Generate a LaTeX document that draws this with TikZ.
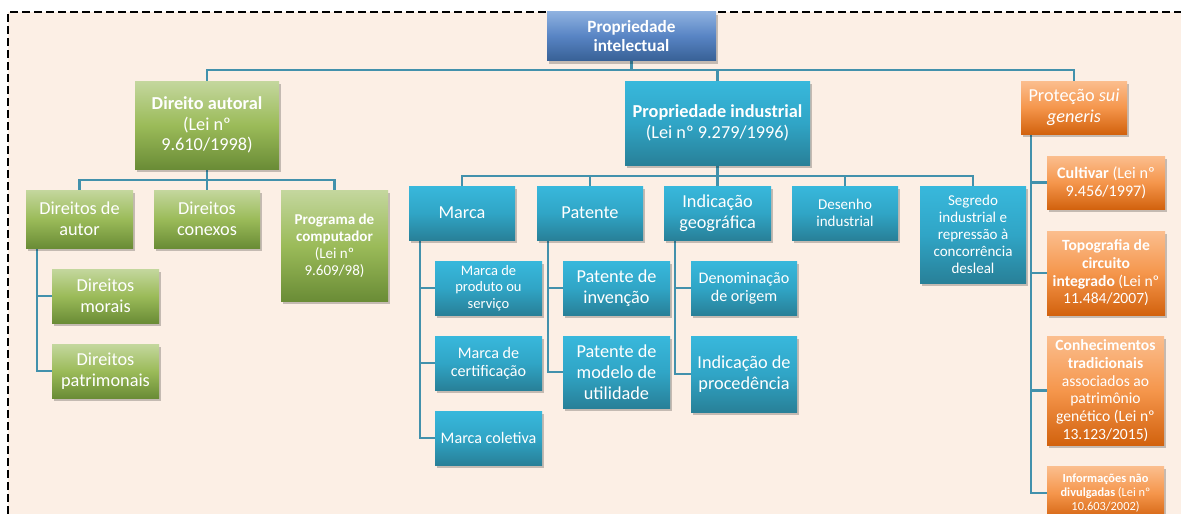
\documentclass[tikz,border=0pt]{standalone}
\usepackage{fontspec}
\setmainfont{Carlito}
\usetikzlibrary{shadows}

\pgfdeclarelayer{back}
\pgfdeclarelayer{links}
\pgfsetlayers{back,links,main}

\definecolor{peach}{RGB}{252,239,229}
\definecolor{linkc}{RGB}{66,145,172}
\definecolor{blueT}{RGB}{143,178,224}
\definecolor{blueM}{RGB}{88,132,196}
\definecolor{blueB}{RGB}{56,97,150}
\definecolor{greenT}{RGB}{196,215,158}
\definecolor{greenM}{RGB}{155,187,89}
\definecolor{greenB}{RGB}{106,140,54}
\definecolor{tealT}{RGB}{56,184,220}
\definecolor{tealM}{RGB}{48,165,198}
\definecolor{tealB}{RGB}{40,128,152}
\definecolor{orangeT}{RGB}{251,190,142}
\definecolor{orangeM}{RGB}{245,150,76}
\definecolor{orangeB}{RGB}{210,98,14}

% text size #1 (slightly enlarged glyphs, line pitch 1.22 x #1)
\newcommand{\fs}[1]{\fontsize{1.075\dimexpr #1pt\relax}{1.22\dimexpr #1pt\relax}\selectfont}

\tikzset{
  box/.style={rectangle, inner sep=0pt, align=center, text=white,
    drop shadow={shadow xshift=2pt, shadow yshift=-3pt, opacity=0.22, fill=black}},
  bluebox/.style={box, top color=blueT, bottom color=blueB, middle color=blueM},
  greenbox/.style={box, top color=greenT, bottom color=greenB, middle color=greenM},
  tealbox/.style={box, top color=tealT, bottom color=tealB, middle color=tealM},
  orangebox/.style={box, top color=orangeT, bottom color=orangeB, middle color=orangeM},
  conn/.style={draw=linkc, line width=2.4pt},
  sz/.style n args={3}{minimum width=#1pt, minimum height=#2pt, font=\fs{#3}},
}

\begin{document}
\begin{tikzpicture}[x=1pt, y=-1pt]
\useasboundingbox (0,0) rectangle (1181,514);
\clip (0,0) rectangle (1181,514);

% framed background
\begin{pgfonlayer}{back}
\fill[peach] (8,12) rectangle (1181,514);
\draw[line width=2pt, dash pattern=on 8pt off 4pt] (8,514) -- (8,12) -- (1181,12);
\end{pgfonlayer}

% buses
\coordinate (bus1) at (0,70);
\coordinate (bus2) at (0,180);
\coordinate (bus3) at (0,176);

% ---------- nodes ----------
\node[bluebox, sz={169}{49}{16}] (root) at (631.5,36) {\textbf{Propriedade}\\\textbf{intelectual}};

\node[greenbox, sz={144}{88}{17}] (da) at (207,125) {\textbf{Direito autoral}\\(Lei nº\\9.610/1998)};
\node[tealbox, sz={185}{84}{17}] (pi) at (717.5,123) {\textbf{Propriedade industrial}\\(Lei nº 9.279/1996)};
\node[orangebox, sz={106}{53}{17}] (ps) at (1074,107.5) {Proteção \textit{sui}\\\textit{generis}};

% direito autoral
\node[greenbox, sz={107}{58}{17}] (dau) at (79.5,219) {Direitos de\\autor};
\node[greenbox, sz={106}{58}{17}] (dcx) at (207,219) {Direitos\\conexos};
\node[greenbox, sz={107}{111}{14}] (prog) at (334.5,245.5) {\textbf{Programa de}\\\textbf{computador}\\(Lei nº\\9.609/98)};
\node[greenbox, sz={107}{54}{17}] (dmo) at (105.5,296) {Direitos\\morais};
\node[greenbox, sz={107}{54}{17}] (dpa) at (105.5,371) {Direitos\\patrimonais};

% propriedade industrial
\node[tealbox, sz={106}{54}{17}] (marca) at (462,213) {Marca};
\node[tealbox, sz={106}{54}{17}] (pat) at (590,213) {Patente};
\node[tealbox, sz={107}{54}{17}] (ig) at (717.5,213) {Indicação\\geográfica};
\node[tealbox, sz={106}{54}{14}] (des) at (845,213) {Desenho\\industrial};
\node[tealbox, sz={106}{97}{14}] (seg) at (973,234.5) {Segredo\\industrial e\\repressão à\\concorrência\\desleal};

\node[tealbox, sz={107}{54}{13.5}] (mps) at (488.5,288) {Marca de\\produto ou\\serviço};
\node[tealbox, sz={107}{54}{15}] (mce) at (488.5,363) {Marca de\\certificação};
\node[tealbox, sz={107}{54}{15}] (mco) at (488.5,438) {Marca coletiva};

\node[tealbox, sz={107}{54}{17}] (pin) at (616.5,288) {Patente de\\invenção};
\node[tealbox, sz={107}{72}{17}] (pmu) at (616.5,372) {Patente de\\modelo de\\utilidade};

\node[tealbox, sz={106}{54}{15}] (den) at (744,288) {Denominação\\de origem};
\node[tealbox, sz={106}{76}{17}] (ipr) at (744,374) {Indicação de\\procedência};

% protecao sui generis
\node[orangebox, sz={118}{53}{15}] (cul) at (1106,182.5) {\textbf{Cultivar} (Lei nº\\9.456/1997)};
\node[orangebox, sz={118}{84}{14.5}] (topo) at (1106,273) {\textbf{Topografia de}\\\textbf{circuito}\\\textbf{integrado} (Lei nº\\11.484/2007)};
\node[orangebox, sz={117}{109}{14.5}] (con) at (1105.5,390.5) {\textbf{Conhecimentos}\\\textbf{tradicionais}\\associados ao\\patrimônio\\genético (Lei nº\\13.123/2015)};
\node[orangebox, sz={117}{54}{11.5}] (inf) at (1105.5,493) {\textbf{Informações não}\\\textbf{divulgadas} (Lei nº\\10.603/2002)};

% ---------- connectors ----------
\begin{pgfonlayer}{links}
% first level
\draw[conn] (root.south) -- (root.south |- bus1) -| (da.north);
\draw[conn] (root.south |- bus1) -| (pi.north);
\draw[conn] (root.south |- bus1) -| (ps.north);
% direito autoral
\draw[conn] (da.south) -- (da.south |- bus2) -| (dau.north);
\draw[conn] (da.south |- bus2) -- (dcx.north);
\draw[conn] (da.south |- bus2) -| (prog.north);
\draw[conn] ([xshift=11pt]dau.south west) |- (dmo.west);
\draw[conn] ([xshift=11pt]dau.south west) |- (dpa.west);
% propriedade industrial
\draw[conn] (pi.south) -- (pi.south |- bus3) -| (marca.north);
\draw[conn] (pi.south |- bus3) -| (pat.north);
\draw[conn] (pi.south |- bus3) -- (ig.north);
\draw[conn] (pi.south |- bus3) -| (des.north);
\draw[conn] (pi.south |- bus3) -| (seg.north);
\draw[conn] ([xshift=11pt]marca.south west) |- (mps.west);
\draw[conn] ([xshift=11pt]marca.south west) |- (mce.west);
\draw[conn] ([xshift=11pt]marca.south west) |- (mco.west);
\draw[conn] ([xshift=11pt]pat.south west) |- (pin.west);
\draw[conn] ([xshift=11pt]pat.south west) |- (pmu.west);
\draw[conn] ([xshift=11pt]ig.south west) |- (den.west);
\draw[conn] ([xshift=11pt]ig.south west) |- (ipr.west);
% protecao sui generis
\draw[conn] ([xshift=10pt]ps.south west) |- (cul.west);
\draw[conn] ([xshift=10pt]ps.south west) |- (topo.west);
\draw[conn] ([xshift=10pt]ps.south west) |- (con.west);
\draw[conn] ([xshift=10pt]ps.south west) |- (inf.west);
\end{pgfonlayer}
\end{tikzpicture}
\end{document}
